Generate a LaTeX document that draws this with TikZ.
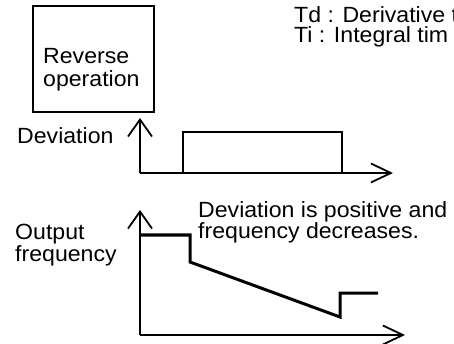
\documentclass[tikz,border=0pt]{standalone}
\usepackage{fontspec}
\setmainfont[FakeStretch=1.05]{Liberation Sans}
\usepackage{tikz}
\usetikzlibrary{arrows.meta,positioning,calc}

\begin{document}
\begin{tikzpicture}[x=1pt, y=-1pt]
  \tikzstyle{label} = [inner sep=0pt, anchor=base west, align=left, font=\fontsize{22}{20}\selectfont]
  \tikzstyle{frame} = [draw, line width=1.8pt, inner sep=0pt, anchor=north west]
  \tikzstyle{upaxis} = [draw, line width=1.8pt, -{Straight Barb[length=17pt, width=24pt]}]
  \tikzstyle{rightaxis} = [draw, line width=1.8pt, -{Straight Barb[length=20pt, width=19pt]}]
  \tikzstyle{signal} = [draw, line width=1.8pt]
  \tikzstyle{output} = [draw, line width=3pt, line join=miter]

  \useasboundingbox (0,0) rectangle (454,344);

  \node [frame, minimum width=121pt, minimum height=106pt] (mode) at (32,5) {};
  \node [label, font=\fontsize{22}{23}\selectfont] (modetext) at (43,87) {Reverse\\operation};
  \node [label] (legend) at (294,43) {Td : Derivative t\\Ti : Integral tim};

  % deviation
  \coordinate (devorigin) at (140,173);
  \coordinate (devtop) at (140,118);
  \coordinate (devend) at (393,173);
  \path [upaxis] (devorigin) -- (devtop);
  \path [rightaxis] (devorigin) -- (devend);
  \path [signal] (183,173) |- (342,132) -- (342,173);
  \node [label] (devlabel) at (17,144) {Deviation};

  % output frequency
  \coordinate (freqorigin) at (140,335);
  \coordinate (freqtop) at (140,210);
  \coordinate (freqend) at (405,335);
  \path [upaxis] (freqorigin) -- (freqtop);
  \path [rightaxis] (freqorigin) -- (freqend);
  \path [output] (140,235) -- (190,235) -- (190,262) -- (340,317) -- (340,293) -- (378,293);
  \node [label] (freqlabel) at (15,261) {Output\\frequency};
  \node [label] (note) at (198,239) {Deviation is positive and\\frequency decreases.};
\end{tikzpicture}
\end{document}
